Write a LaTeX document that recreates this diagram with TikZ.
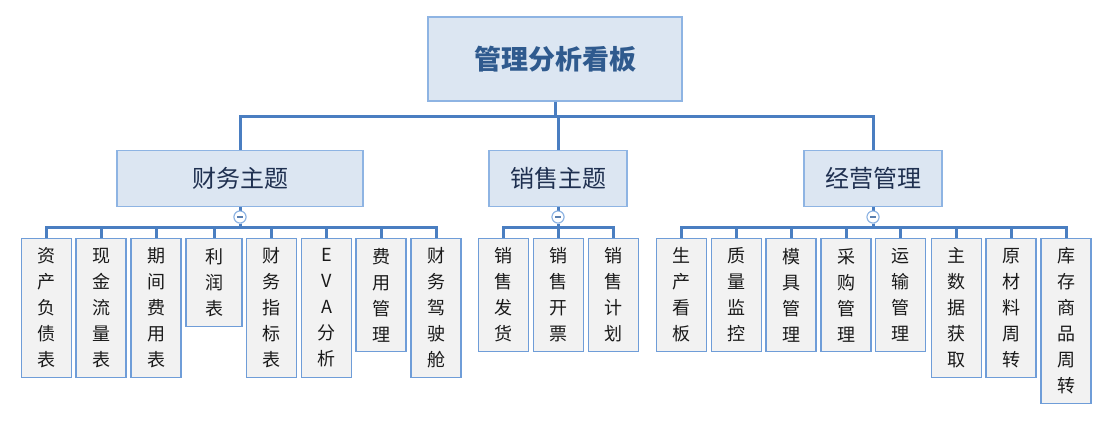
\documentclass[tikz,border=0pt]{standalone}
\usepackage{fontspec}
\setmainfont{Noto Sans CJK SC}
\definecolor{lineblue}{HTML}{4A7EC1}
\definecolor{boxborder}{HTML}{8EB4E3}
\definecolor{boxfill}{HTML}{DCE6F2}
\definecolor{leafborder}{HTML}{6F9DD8}
\definecolor{leaffill}{HTML}{F2F2F2}
\definecolor{titletext}{HTML}{2F5A8E}
\definecolor{subtext}{HTML}{1F3050}
\definecolor{leaftext}{HTML}{1A1A1A}
\definecolor{circborder}{HTML}{8EB4E3}
\definecolor{minuscol}{HTML}{5A7FAF}
\newcommand\leafnode[5]{\node[leaf, minimum width=#3pt, minimum height=#4pt] (#1) at (#2,238) {#5};}
\begin{document}
\begin{tikzpicture}[x=1pt,y=-1pt,
  conn/.style={draw=lineblue, line width=3pt},
  topbox/.style={draw=boxborder, line width=1.3pt, fill=boxfill, inner sep=0pt,
     minimum width=254pt, minimum height=84pt, text=titletext,
     font=\fontsize{27}{30}\selectfont\bfseries},
  subbox/.style={draw=boxborder, line width=1.3pt, fill=boxfill, inner sep=0pt,
     minimum height=56pt, text=subtext, font=\fontsize{24}{28}\selectfont},
  leaf/.style={draw=leafborder, line width=1.1pt, fill=leaffill, inner sep=0pt,
     anchor=north, align=center, text=leaftext, font=\fontsize{18}{26}\selectfont},
  collapse/.style={circle, draw=circborder, line width=1pt, fill=white,
     minimum size=12pt, inner sep=0pt}]
\useasboundingbox (0,0) rectangle (1115,422);

% level 0 and 1
\node[topbox] (top) at (555,59) {管理分析看板};
\node[subbox, minimum width=246pt] (fin) at (240,178.5) {财务主题};
\node[subbox, minimum width=138pt] (sal) at (558,178.5) {销售主题};
\node[subbox, minimum width=138pt] (ops) at (873,178.5) {经营管理};

\coordinate (busT) at (0,117);
\coordinate (bus) at (0,227);

\draw[conn] (top.south) -- (top.south |- busT) -| (fin.north);
\draw[conn] (top.south |- busT) -| (sal.north);
\draw[conn] (top.south |- busT) -| (ops.north);

% collapse buttons
\node[collapse] (cF) at (240,217) {\textcolor{minuscol}{\rule{6pt}{1.2pt}}};
\node[collapse] (cS) at (558,217) {\textcolor{minuscol}{\rule{6pt}{1.2pt}}};
\node[collapse] (cO) at (873,217) {\textcolor{minuscol}{\rule{6pt}{1.2pt}}};

% finance leaves
\leafnode{f1}{46.5}{50}{139}{资\\产\\负\\债\\表}
\leafnode{f2}{101}{50}{139}{现\\金\\流\\量\\表}
\leafnode{f3}{156}{50}{139}{期\\间\\费\\用\\表}
\leafnode{f4}{214}{56}{88}{利\\润\\表}
\leafnode{f5}{271.5}{50}{139}{财\\务\\指\\标\\表}
\leafnode{f6}{326.5}{50}{139}{E\\V\\A\\分\\析}
\leafnode{f7}{381}{50}{113}{费\\用\\管\\理}
\leafnode{f8}{436}{50}{139}{财\\务\\驾\\驶\\舱}

% sales leaves
\leafnode{s1}{503.5}{50}{113}{销\\售\\发\\货}
\leafnode{s2}{558.5}{50}{113}{销\\售\\开\\票}
\leafnode{s3}{613.5}{50}{113}{销\\售\\计\\划}

% operations leaves
\leafnode{o1}{681.5}{50}{113}{生\\产\\看\\板}
\leafnode{o2}{736.5}{50}{113}{质\\量\\监\\控}
\leafnode{o3}{791}{50}{113}{模\\具\\管\\理}
\leafnode{o4}{846}{50}{113}{采\\购\\管\\理}
\leafnode{o5}{900.5}{50}{113}{运\\输\\管\\理}
\leafnode{o6}{956.5}{50}{139}{主\\数\\据\\获\\取}
\leafnode{o7}{1011}{50}{139}{原\\材\\料\\周\\转}
\leafnode{o8}{1066}{50}{165}{库\\存\\商\\品\\周\\转}

% connectors level 1 -> buttons
\draw[conn] (fin.south) -- (cF.north);
\draw[conn] (sal.south) -- (cS.north);
\draw[conn] (ops.south) -- (cO.north);

% connectors buttons -> leaves
\foreach \l in {f1,f2,f3,f4,f5,f6,f7,f8}
  \draw[conn] (cF.south) -- (cF.south |- bus) -| (\l.north);
\foreach \l in {s1,s2,s3}
  \draw[conn] (cS.south) -- (cS.south |- bus) -| (\l.north);
\foreach \l in {o1,o2,o3,o4,o5,o6,o7,o8}
  \draw[conn] (cO.south) -- (cO.south |- bus) -| (\l.north);

% redraw buttons on top
\node[collapse] at (cF) {\textcolor{minuscol}{\rule{6pt}{1.2pt}}};
\node[collapse] at (cS) {\textcolor{minuscol}{\rule{6pt}{1.2pt}}};
\node[collapse] at (cO) {\textcolor{minuscol}{\rule{6pt}{1.2pt}}};
\end{tikzpicture}
\end{document}
